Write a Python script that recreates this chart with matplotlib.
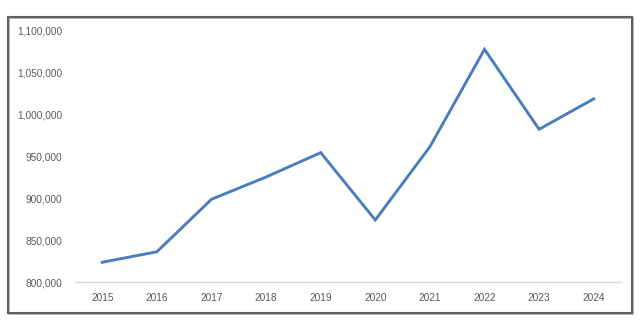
import matplotlib

matplotlib.use("Agg")
import matplotlib.pyplot as plt
from matplotlib.patches import Rectangle
from matplotlib.ticker import FuncFormatter

LINE_COLOR = "#4A7EBB"
TEXT_COLOR = "#595959"
AXIS_COLOR = "#D9D9D9"
FRAME_COLOR = "#606060"

years = ["2015", "2016", "2017", "2018", "2019", "2020", "2021", "2022", "2023", "2024"]
values = [823500, 836000, 898500, 925000, 954000, 873800, 961000, 1077000, 981800, 1018000]
y_ticks = [800000, 850000, 900000, 950000, 1000000, 1050000, 1100000]

plt.rcParams.update({
    "font.family": ["Liberation Sans", "DejaVu Sans"],
    "font.size": 7.3,
})

fig = plt.figure(figsize=(6.4, 3.21), dpi=100)
fig.patch.set_facecolor("white")

# outer chart frame, with a faint shadow like the scanned original
fig.add_artist(Rectangle((9 / 640, 1 - 314 / 321), 624 / 640, 296 / 321,
                         transform=fig.transFigure, fill=False,
                         edgecolor="#B0B0B0", linewidth=1.2))
fig.add_artist(Rectangle((8 / 640, 1 - 313 / 321), 624 / 640, 296 / 321,
                         transform=fig.transFigure, fill=False,
                         edgecolor=FRAME_COLOR, linewidth=1.5))

ax = fig.add_axes([75 / 640, 1 - 282 / 321, 546 / 640, 252 / 321])
x = list(range(len(years)))
ax.plot(x, values, color=LINE_COLOR, linewidth=2.1, solid_joinstyle="miter", zorder=3)

ax.set_xlim(-0.5, len(years) - 0.5)
ax.set_ylim(y_ticks[0], y_ticks[-1])
ax.set_xticks(x)
ax.set_xticklabels(years)
ax.set_yticks(y_ticks)
ax.yaxis.set_major_formatter(FuncFormatter(lambda v, p: f"{v:,.0f}"))
ax.tick_params(axis="both", length=0, colors=TEXT_COLOR, labelsize=7.3)
ax.tick_params(axis="y", pad=9)
ax.tick_params(axis="x", pad=8)

for side in ["top", "right", "left"]:
    ax.spines[side].set_visible(False)
ax.spines["bottom"].set_color(AXIS_COLOR)
ax.spines["bottom"].set_linewidth(1.0)
ax.spines["bottom"].set_clip_on(False)

fig.savefig("out.png", dpi=100)
plt.close(fig)
